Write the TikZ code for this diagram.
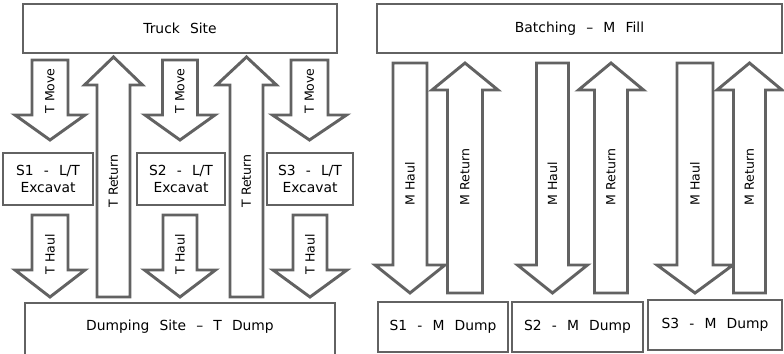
\documentclass[tikz,border=0pt]{standalone}
\usepackage{fontspec}
\setmainfont{DejaVu Sans}
\newfontfamily\widefont{DejaVu Sans}[WordSpace=2.3]
\definecolor{ln}{HTML}{626262}
\newcommand\barrow[6]{% cx, ystart, yhead, ytip, shaft half, head half
  \draw[arr] ({#1-#5},#2) -- ({#1+#5},#2) -- ({#1+#5},#3) -- ({#1+#6},#3) -- (#1,#4)
    -- ({#1-#6},#3) -- ({#1-#5},#3) -- cycle;}
\begin{document}
\begin{tikzpicture}[x=0.75pt,y=-0.75pt,
  box/.style={draw=ln,line width=2.2pt,fill=white,inner sep=0pt,
    font=\widefont\fontsize{10.4}{13}\selectfont,align=center},
  boxtext/.style={inner sep=0pt,font=\widefont\fontsize{10.4}{13}\selectfont},
  arr/.style={draw=ln,line width=2.2pt,fill=white,line join=miter},
  lbl/.style={rotate=90,inner sep=0pt,font=\fontsize{9.4}{11}\selectfont}]
\useasboundingbox (0,0) rectangle (784,353);
\clip (0,0) rectangle (784,353);
% ---------- left: truck cycle ----------
\node[box,minimum width={314*0.75pt},minimum height={49*0.75pt}] (truck) at (180,28.5) {Truck Site};
\node[box,minimum width={90*0.75pt},minimum height={52*0.75pt}] (s1) at (48,179) {S1 - L/T\\Excavat};
\node[box,minimum width={88*0.75pt},minimum height={52*0.75pt}] (s2) at (181,179) {S2 - L/T\\Excavat};
\node[box,minimum width={86*0.75pt},minimum height={52*0.75pt}] (s3) at (310,179) {S3 - L/T\\Excavat};
\draw[draw=ln,line width=2.2pt,fill=white] (25,303) rectangle (335,380);
\node[boxtext] (dump) at (180,327) {Dumping Site – T Dump};
% T Move
\barrow{50}{60}{115}{140}{18}{35}
\barrow{180}{60}{115}{140}{17.5}{35}
\barrow{309.5}{60}{115}{140}{18.5}{37}
\node[lbl] (tm1) at (50,91) {T Move};
\node[lbl] (tm2) at (180,91) {T Move};
\node[lbl] (tm3) at (309.5,91) {T Move};
% T Return
\barrow{113.5}{297}{85}{57}{16.5}{29}
\barrow{246.5}{297}{85}{57}{16.5}{30}
\node[lbl] (tr1) at (113.5,181) {T Return};
\node[lbl] (tr2) at (246.5,181) {T Return};
% T Haul
\barrow{50}{215}{270}{297}{18}{35}
\barrow{180}{215}{270}{297}{17}{35.5}
\barrow{310}{215}{270}{297}{17}{37}
\node[lbl] (th1) at (50,254) {T Haul};
\node[lbl] (th2) at (180,254) {T Haul};
\node[lbl] (th3) at (310,254) {T Haul};
% ---------- right: mixer cycle ----------
\node[box,minimum width={405*0.75pt},minimum height={49*0.75pt}] (batch) at (579.5,28.5) {Batching – M Fill};
\node[box,minimum width={130*0.75pt},minimum height={50*0.75pt}] (m1) at (443,327) {S1 - M Dump};
\node[box,minimum width={131*0.75pt},minimum height={50*0.75pt}] (m2) at (577.5,327) {S2 - M Dump};
\node[box,minimum width={134*0.75pt},minimum height={50*0.75pt}] (m3) at (715,325) {S3 - M Dump};
% M Haul
\barrow{410}{63}{265}{293}{17}{35}
\barrow{552.5}{63}{265}{293}{16}{35}
\barrow{695}{63}{265}{293}{18}{38}
\node[lbl] (mh1) at (410,184) {M Haul};
\node[lbl] (mh2) at (552.5,184) {M Haul};
\node[lbl] (mh3) at (695,184) {M Haul};
% M Return
\barrow{465}{293}{90}{63}{17.5}{33}
\barrow{611}{293}{90}{63}{16.5}{32.5}
\barrow{749.5}{293}{90}{63}{16}{32.5}
\node[lbl] (mr1) at (465,177) {M Return};
\node[lbl] (mr2) at (611,177) {M Return};
\node[lbl] (mr3) at (749.5,177) {M Return};
\end{tikzpicture}
\end{document}
